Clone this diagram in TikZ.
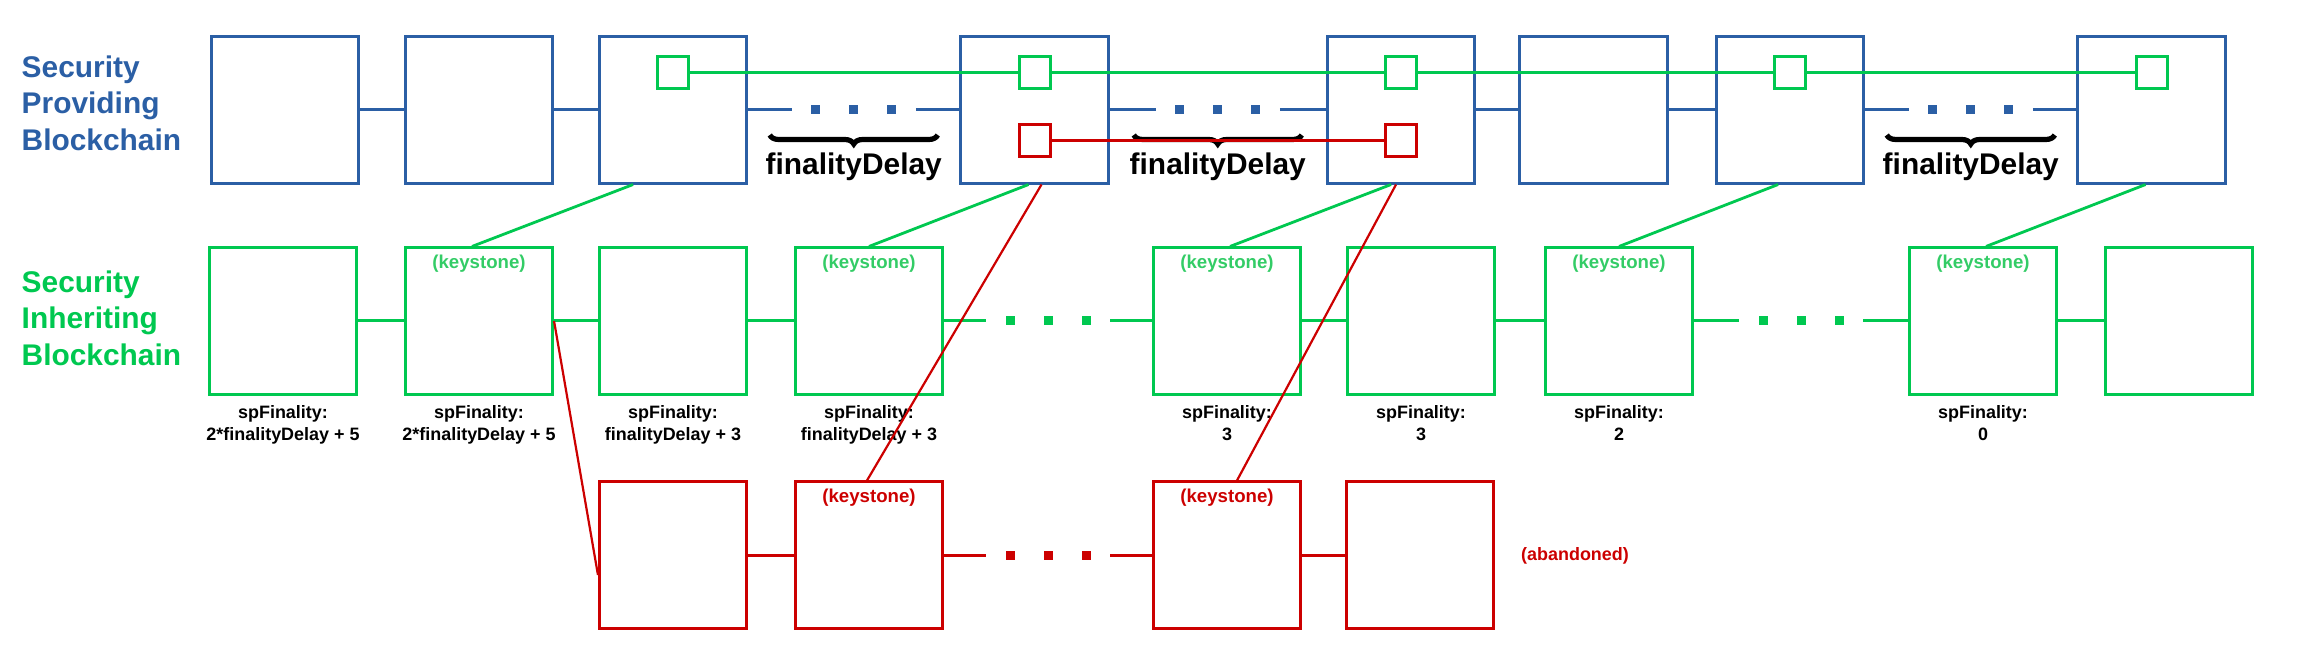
\documentclass[tikz,border=0pt]{standalone}
\usepackage{fontspec}
\setmainfont{Liberation Sans}
\usetikzlibrary{positioning,calc,decorations.pathreplacing}

\definecolor{spblue}{RGB}{43,95,165}
\definecolor{sigreen}{RGB}{0,200,80}
\definecolor{keygreen}{RGB}{51,204,102}
\definecolor{abred}{RGB}{204,0,0}

% link with three dots in the middle of the gap
\newcommand\gaplink[3]{%
  \coordinate (#1-#2) at ($(#1.east)!.5!(#2.west)$);
  \draw[link,#3] (#1.east) -- ($(#1-#2)+(-62,0)$);
  \draw[link,#3] ($(#1-#2)+(62,0)$) -- (#2.west);
  \foreach \dx in {-38,0,38}
    \fill[#3] ($(#1-#2)+(\dx,0)$) +(-4.5,-4.5) rectangle +(4.5,4.5);
}

\begin{document}
\begin{tikzpicture}[x=0.01cm, y=-0.01cm,
  font=\bfseries,
  spbox/.style={draw=spblue, line width=0.03cm, minimum width=1.47cm, minimum height=1.46cm, inner sep=0pt},
  sibox/.style={spbox, draw=sigreen},
  abbox/.style={spbox, draw=abred},
  gsq/.style={draw=sigreen, fill=white, line width=0.03cm, minimum width=0.31cm, minimum height=0.32cm, inner sep=0pt},
  rsq/.style={gsq, draw=abred},
  link/.style={line width=0.03cm},
  kline/.style={sigreen, line width=0.028cm},
  rline/.style={abred, line width=0.022cm},
  chainname/.style={anchor=west, align=left, inner sep=0pt, font=\fontsize{8.5}{10.4}\selectfont\bfseries},
  keytext/.style={keygreen, inner sep=0pt, font=\fontsize{5.3}{6}\selectfont\bfseries},
  spf/.style={align=center, inner sep=0pt, font=\fontsize{5.1}{6.4}\selectfont\bfseries},
  delay/.style={inner sep=0pt, font=\fontsize{8.5}{10}\selectfont\bfseries},
  delaybrace/.style={decorate, decoration={brace, mirror, amplitude=0.09cm}, line width=0.052cm}
]
\useasboundingbox (0,0) rectangle (2301,652);

% security providing chain
\node[chainname, spblue] (splabel) at (21,103) {Security\\Providing\\Blockchain};
\foreach \name/\x in {sp1/285, sp2/479, sp3/673, sp4/1034.5, sp5/1401, sp6/1593.5, sp7/1790, sp8/2151.5}
  \node[spbox] (\name) at (\x,110) {};
\foreach \a/\b in {sp1/sp2, sp2/sp3, sp5/sp6, sp6/sp7}
  \draw[link, spblue] (\a) -- (\b);
\gaplink{sp3}{sp4}{spblue}
\gaplink{sp4}{sp5}{spblue}
\gaplink{sp7}{sp8}{spblue}

\foreach \g in {sp3-sp4, sp4-sp5, sp7-sp8} {
  \draw[delaybrace] ($(\g)+(-84,25)$) -- ($(\g)+(84,25)$);
  \node[delay] (delay-\g) at ($(\g)+(0,57)$) {finalityDelay};
}

% keystone references inside the blocks
\foreach \n in {3,4,5,7,8}
  \node[gsq, below=0.2cm of sp\n.north] (kg\n) {};
\node[rsq, below=0.87cm of sp4.north] (kr4) {};
\node[rsq, below=0.87cm of sp5.north] (kr5) {};
\draw[link, sigreen] (kg3) -- (kg4) -- (kg5) -- (kg7) -- (kg8);
\draw[link, abred] (kr4) -- (kr5);

% security inheriting chain
\node[chainname, sigreen] (silabel) at (21,318) {Security\\Inheriting\\Blockchain};
\foreach \name/\x in {si1/283, si2/479, si3/673, si4/869, si5/1227, si6/1421, si7/1619, si8/1983, si9/2179}
  \node[sibox] (\name) at (\x,321) {};
\foreach \a/\b in {si1/si2, si2/si3, si3/si4, si5/si6, si6/si7, si8/si9}
  \draw[link, sigreen] (\a) -- (\b);
\gaplink{si4}{si5}{sigreen}
\gaplink{si7}{si8}{sigreen}

\foreach \n in {2,4,5,7,8}
  \node[keytext] (key\n) at ($(si\n.north)+(0,17)$) {(keystone)};
\foreach \n/\v in {1/{2*finalityDelay + 5}, 2/{2*finalityDelay + 5}, 3/{finalityDelay + 3}, 4/{finalityDelay + 3}, 5/3, 6/3, 7/2, 8/0}
  \node[spf, anchor=north] (spf\n) at ($(si\n.south)+(0,9)$) {spFinality:\\\v};

% abandoned fork
\foreach \name/\x in {ab1/673, ab2/869, ab3/1227, ab4/1420}
  \node[abbox] (\name) at (\x,555) {};
\foreach \a/\b in {ab1/ab2, ab3/ab4}
  \draw[link, abred] (\a) -- (\b);
\gaplink{ab2}{ab3}{abred}
\node[keytext, abred] (abkey2) at ($(ab2.north)+(0,17)$) {(keystone)};
\node[keytext, abred] (abkey3) at ($(ab3.north)+(0,17)$) {(keystone)};
\node[spf, abred] (abandoned) at (1575,556) {(abandoned)};

% keystone publications
\draw[kline] ($(sp3.south)+(-40,0)$) -- ($(si2.north)+(-7,0)$);
\draw[kline] ($(sp4.south)+(-6,0)$) -- (si4.north);
\draw[kline] ($(sp5.south)+(-10,0)$) -- ($(si5.north)+(3,0)$);
\draw[kline] ($(sp7.south)+(-12,0)$) -- (si7.north);
\draw[kline] ($(sp8.south)+(-6,0)$) -- ($(si8.north)+(3,0)$);
\draw[rline] ($(sp4.south)+(7,0)$) -- ($(ab2.north)+(-2,0)$);
\draw[rline] ($(sp5.south)+(-5,0)$) -- ($(ab3.north)+(10,0)$);
\draw[rline] (si2.east) -- ($(ab1.west)+(0,20)$);
\end{tikzpicture}
\end{document}
